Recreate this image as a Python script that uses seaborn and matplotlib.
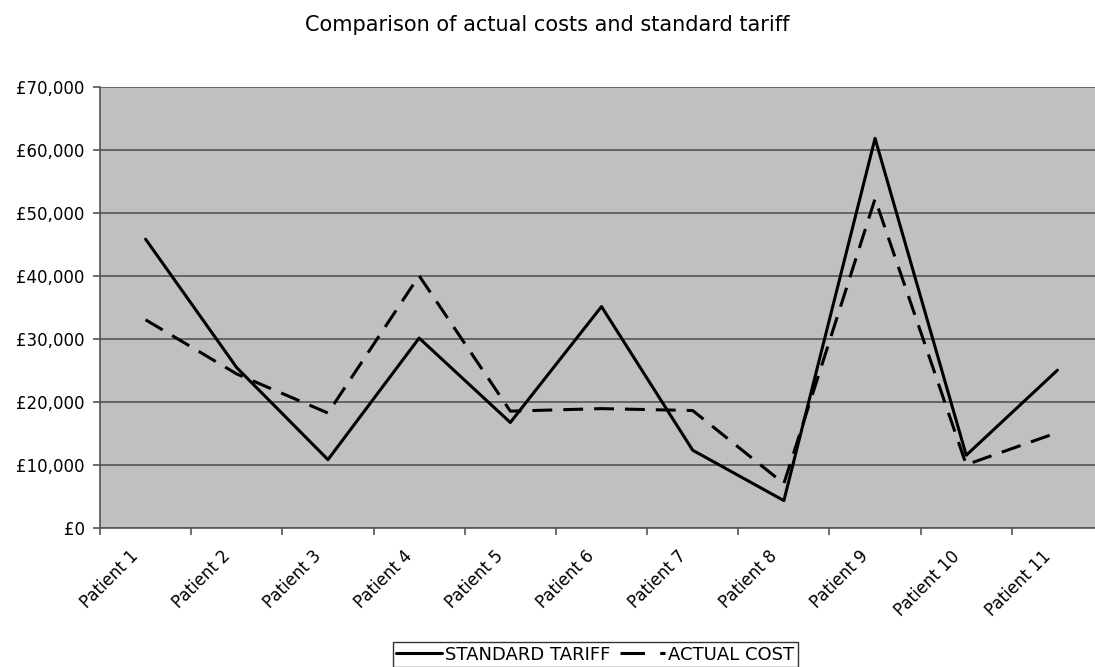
import matplotlib
matplotlib.use("Agg")
import matplotlib.pyplot as plt
from matplotlib.ticker import FixedLocator, FuncFormatter
from matplotlib.transforms import ScaledTranslation
from matplotlib.lines import Line2D
import seaborn as sns
import pandas as pd

patients = [f"Patient {i}" for i in range(1, 12)]
standard_tariff = [45800, 25400, 10800, 30100, 16700, 35100, 12300, 4300, 61800, 11500, 25000]
actual_cost = [33000, 24400, 18200, 40000, 18500, 18900, 18600, 7000, 52200, 10000, 15100]

sns.set_theme(style="white")
plt.rcParams["font.family"] = ["DejaVu Sans"]
plt.rcParams["text.color"] = "black"
plt.rcParams["xtick.color"] = "black"
plt.rcParams["ytick.color"] = "black"

df = pd.DataFrame({
    "pos": list(range(len(patients))) * 2,
    "value": standard_tariff + actual_cost,
    "series": ["STANDARD TARIFF"] * len(patients) + ["ACTUAL COST"] * len(patients),
})

fig = plt.figure(figsize=(10.95, 6.67), dpi=100)
W, H = 1095, 667
ax = fig.add_axes([100 / W, 1 - 527.7 / H, 1003 / W, (527.7 - 86.7) / H])
ax.set_facecolor("#c0c0c0")

sns.lineplot(data=df, x="pos", y="value", hue="series", style="series",
             palette={"STANDARD TARIFF": "black", "ACTUAL COST": "black"},
             dashes={"STANDARD TARIFF": "", "ACTUAL COST": (6.5, 3.6)},
             linewidth=2.2, ax=ax, legend=False)

ax.set_xlim(-0.5, len(patients) - 0.5)
ax.set_ylim(0, 70000)
ax.set_xlabel("")
ax.set_ylabel("")

# y axis: £ labels and gridlines
ax.yaxis.set_major_locator(FixedLocator(range(0, 70001, 10000)))
ax.yaxis.set_major_formatter(FuncFormatter(lambda v, p: f"£{int(v):,}"))
ax.grid(axis="y", color="#555555", linewidth=1.2)
ax.grid(axis="x", visible=False)

# x axis: ticks at category boundaries, labels at centres
ax.xaxis.set_major_locator(FixedLocator([i - 0.5 for i in range(len(patients) + 1)]))
ax.xaxis.set_major_formatter(FuncFormatter(lambda v, p: ""))
ax.xaxis.set_minor_locator(FixedLocator(range(len(patients))))
ax.set_xticklabels(patients, minor=True, rotation=45, ha="right",
                   rotation_mode="anchor", fontsize=12)
ax.tick_params(axis="x", which="minor", length=0, pad=14)
ax.tick_params(axis="x", which="major", length=5, width=1.2, color="#555555", direction="out")
ax.tick_params(axis="y", length=5, width=1.2, color="#555555", direction="out",
               labelsize=12, pad=6)
ax.tick_params(axis="both", bottom=True, left=True, which="major")

shift = ScaledTranslation(-16 / 100, 0, fig.dpi_scale_trans)
for lbl in ax.get_xticklabels(minor=True):
    lbl.set_transform(lbl.get_transform() + shift)

for side in ["top", "right"]:
    ax.spines[side].set_visible(False)
for side in ["left", "bottom"]:
    ax.spines[side].set_color("#555555")
    ax.spines[side].set_linewidth(1.2)

fig.suptitle("Comparison of actual costs and standard tariff", x=0.5, y=1 - 25 / H,
             va="center", fontsize=15)

handles = [Line2D([], [], color="black", lw=2.2),
           Line2D([], [], color="black", lw=2.2, dashes=(8, 5))]
leg = fig.legend(handles, ["STANDARD TARIFF", "ACTUAL COST"], loc="upper center",
                 bbox_to_anchor=(595.5 / W, 1 - 642 / H), ncol=2, frameon=True,
                 fancybox=False, edgecolor="black", fontsize=13, handlelength=2.5,
                 handletextpad=0.2, columnspacing=0.5, borderpad=0.2,
                 borderaxespad=0)
leg.get_frame().set_linewidth(1.0)

fig.savefig("out.png", dpi=100)
